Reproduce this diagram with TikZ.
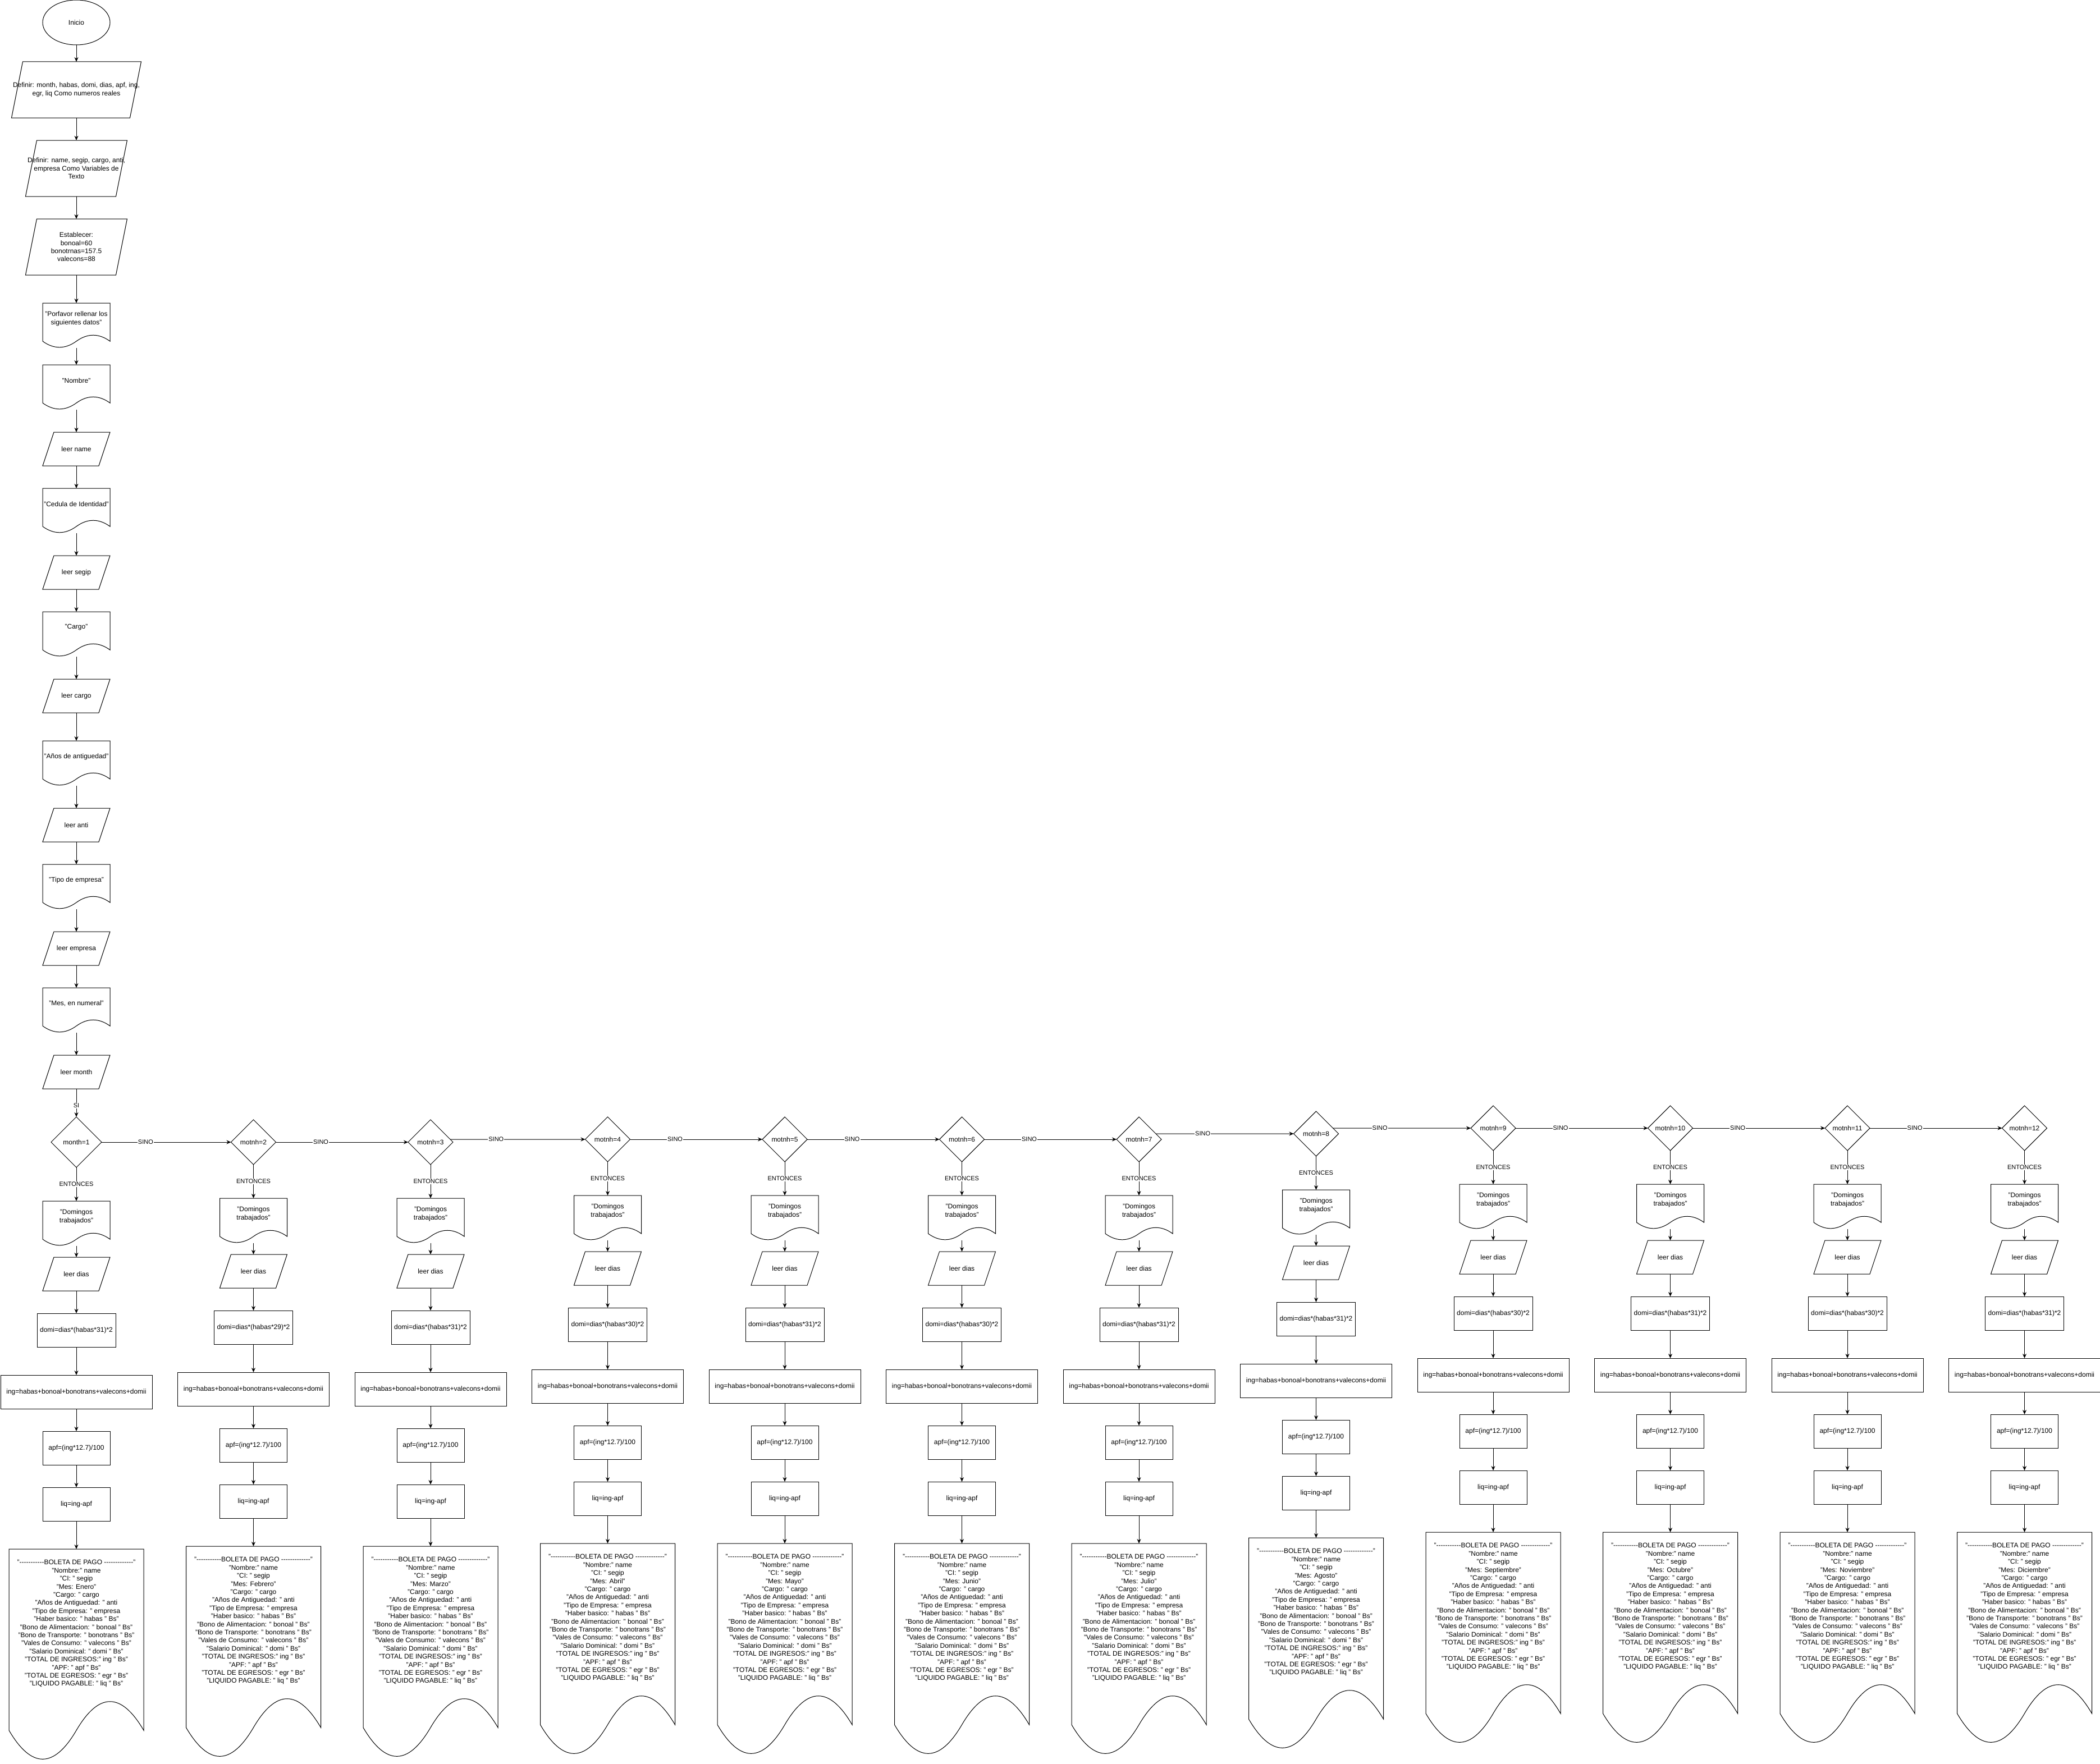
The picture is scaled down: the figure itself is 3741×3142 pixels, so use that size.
\documentclass[tikz,border=0pt]{standalone}
\usepackage{fontspec}
\setmainfont{Liberation Sans}
\usetikzlibrary{arrows.meta,shapes.geometric,calc}

\newcommand{\rayas}[1]{\foreach \k in {1,...,#1}{-{}}}
\newcommand{\boleta}[1]{"\rayas{11}BOLETA DE PAGO \rayas{13}"\\
  "Nombre:" name\\ "CI: " segip\\ "Mes: #1"\\ "Cargo: " cargo\\
  "Años de Antiguedad: " anti\\ "Tipo de Empresa: " empresa\\
  "Haber basico: " habas " Bs"\\ "Bono de Alimentacion: " bonoal " Bs"\\
  "Bono de Transporte: " bonotrans " Bs"\\ "Vales de Consumo: " valecons " Bs"\\
  "Salario Dominical: " domi " Bs"\\ "TOTAL DE INGRESOS:" ing " Bs"\\
  "APF: " apf " Bs"\\ "TOTAL DE EGRESOS: " egr " Bs"\\ "LIQUIDO PAGABLE: " liq " Bs"}
\newcommand{\docline}[1]{%
  \draw let \p1=(#1.north west), \p2=(#1.south east), \n1={\x2-\x1}, \n2={\y1-\y2} in
    (\p1) -- (\x2,\y1) -- (\x2,\y1-0.85*\n2)
    .. controls (\x1+0.8333*\n1,\y1-0.67*\n2) and (\x1+0.6667*\n1,\y1-0.67*\n2) .. (\x1+0.5*\n1,\y1-0.85*\n2)
    .. controls (\x1+0.3333*\n1,\y1-1.03*\n2) and (\x1+0.1667*\n1,\y1-1.03*\n2) .. (\x1,\y1-0.85*\n2)
    -- cycle;}
\newcommand{\paraline}[1]{%
  \draw let \p1=(#1.north west), \p2=(#1.south east) in
    (\x1+20pt,\y1) -- (\x2,\y1) -- (\x2-20pt,\y2) -- (\x1,\y2) -- cycle;}

\tikzset{
  base/.style={font=\fontsize{12}{14.4}\selectfont, align=center, inner sep=0pt, outer sep=0pt},
  inicio/.style={base, draw, ellipse, minimum width=120pt, minimum height=80pt},
  caja/.style={base, draw, rectangle, minimum width=120pt, minimum height=60pt},
  para/.style={base, rectangle, minimum width=120pt, minimum height=60pt},
  docu/.style={base, rectangle, minimum width=120pt, minimum height=80pt},
  doclbl/.style={base, yshift=#1},
  doclbl/.default=12pt,
  rombo/.style={base, draw, diamond, aspect=1, minimum width=#1, minimum height=#1},
  rombo/.default=80pt,
  lbl/.style={font=\fontsize{11}{13}\selectfont, fill=white, inner sep=1pt},
}

\begin{document}
\begin{tikzpicture}[x=1pt,y=1pt,line width=1pt,>={Stealth[length=8pt,width=7pt]}]
    \useasboundingbox (0,0) rectangle (3741,-3142);

    \node[inicio] (ini) at (136,-40) {Inicio};
    \node[para, minimum width=231pt, minimum height=100pt] (def1) at (136,-160) {Definir: month, habas, domi, dias, apf, ing,\\egr, liq Como numeros reales};
    \node[para, minimum width=181pt, minimum height=100pt] (def2) at (136,-300) {Definir: name, segip, cargo, anti,\\empresa Como Variables de\\Texto};
    \node[para, minimum width=181pt, minimum height=100pt] (est) at (136,-440) {Establecer:\\bonoal=60\\bonotrnas=157.5\\valecons=88};
    \node[docu, label={[doclbl]center:{"Porfavor rellenar los\\siguientes datos"}}] (por) at (136,-580) {};
    \node[docu, label={[doclbl]center:{"Nombre"}}] (nom) at (136,-690) {};
    \node[para] (lnam) at (136,-800) {leer name};
    \node[docu, label={[doclbl]center:{"Cedula de Identidad"}}] (ced) at (136,-910) {};
    \node[para] (lseg) at (136,-1020) {leer segip};
    \node[docu, label={[doclbl]center:{"Cargo"}}] (car) at (136,-1130) {};
    \node[para] (lcar) at (136,-1240) {leer cargo};
    \node[docu, label={[doclbl]center:{"Años de antiguedad"}}] (ant) at (136,-1360) {};
    \node[para] (lant) at (136,-1470) {leer anti};
    \node[docu, label={[doclbl]center:{"Tipo de empresa"}}] (tip) at (136,-1580) {};
    \node[para] (lemp) at (136,-1690) {leer empresa};
    \node[docu, label={[doclbl]center:{"Mes, en numeral"}}] (mes) at (136,-1800) {};
    \node[para] (lmes) at (136,-1910) {leer month};

    \foreach \nm in {por,nom,ced,car,ant,tip,mes} {\docline{\nm}}
    \foreach \nm in {def1,def2,est,lnam,lseg,lcar,lant,lemp,lmes} {\paraline{\nm}}

    \foreach \src/\dst in {ini/def1,def1/def2,def2/est,est/por,por/nom,nom/lnam,lnam/ced,ced/lseg,lseg/car,car/lcar,lcar/ant,ant/lant,lant/tip,tip/lemp,lemp/mes,mes/lmes} {
        \draw[->] (\src) -- (\dst);
    }

    \foreach \i/\mes/\dd/\T/\var/\rs in {1/Enero/31/2140/month/90,2/Febrero/29/2135/motnh/80,3/Marzo/31/2135/motnh/80,4/Abril/30/2130/motnh/80,5/Mayo/31/2130/motnh/80,6/Junio/30/2130/motnh/80,7/Julio/31/2130/motnh/80,8/Agosto/31/2120/motnh/80,9/Septiembre/30/2110/motnh/80,10/Octubre/31/2110/motnh/80,11/Noviembre/30/2110/motnh/80,12/Diciembre/31/2110/motnh/80} {
        \pgfmathsetmacro{\cx}{136+315.5*(\i-1)}
        \pgfmathsetmacro{\dy}{-\T+60+\rs/2}
        \node[rombo=\rs pt] (m\i) at (\cx,\dy) {\var=\i};
        \node[docu, label={[doclbl]center:{"Domingos\\trabajados"}}] (d\i) at (\cx,-\T-40) {};
        \node[para] (r\i) at (\cx,-\T-130) {leer dias};
        \node[caja, minimum width=140pt] (dm\i) at (\cx,-\T-230) {domi=dias*(habas*\dd)*2};
        \node[caja, minimum width=270pt] (ig\i) at (\cx,-\T-340) {ing=habas+bonoal+bonotrans+valecons+domii};
        \node[caja] (ap\i) at (\cx,-\T-440) {apf=(ing*12.7)/100};
        \node[caja] (lq\i) at (\cx,-\T-540) {liq=ing-apf};
        \node[docu, minimum width=240pt, minimum height=380pt, label={[doclbl=57pt]center:{\boleta{\mes}}}] (b\i) at (\cx,-\T-810) {};
        \docline{d\i}
        \paraline{r\i}
        \docline{b\i}
        \draw[->] (m\i) -- (d\i) node[midway,lbl] {ENTONCES};
        \foreach \src/\dst in {d/r,r/dm,dm/ig,ig/ap,ap/lq,lq/b} {
            \draw[->] (\src\i) -- (\dst\i);
        }
    }

    \draw[->] (lmes) -- (m1) node[pos=0.6,lbl] {SI};
    \foreach \src/\dst/\ang in {1/2/east,2/3/east,3/4/8,4/5/east,5/6/east,6/7/east,7/8/18,8/9/18,9/10/east,10/11/east,11/12/east} {
        \draw[->] (m\src.\ang) -- (m\dst.west) node[pos=0.34,lbl] {SINO};
    }
\end{tikzpicture}
\end{document}
